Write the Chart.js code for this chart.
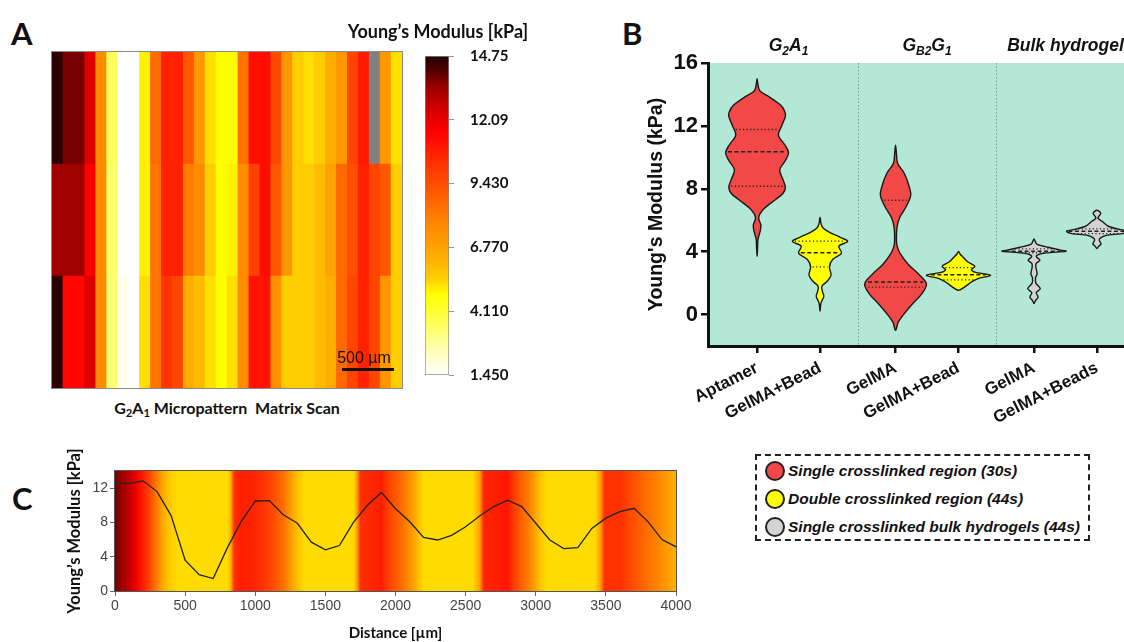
<!DOCTYPE html>
<html><head><meta charset="utf-8">
<script src="https://cdn.jsdelivr.net/npm/chart.js@4.4.0/dist/chart.umd.min.js"></script>
<style>
html,body{margin:0;padding:0;background:#fff;}
body{width:1124px;height:642px;position:relative;overflow:hidden;}
canvas{position:absolute;}
.t{position:absolute;font-family:Lato,"Open Sans",sans-serif;font-weight:700;color:#111;line-height:1;white-space:nowrap;}
#legend{position:absolute;left:755px;top:454px;width:335px;height:87px;border:2px dashed #222;box-sizing:border-box;}
.li{position:absolute;left:8px;height:24px;font-family:"Liberation Sans",Arial,sans-serif;font-weight:700;font-style:italic;font-size:15.5px;color:#111;line-height:24px;white-space:nowrap;}
.dot{display:inline-block;width:20px;height:20px;border:2px solid #222;border-radius:50%;box-sizing:border-box;vertical-align:middle;margin-right:3px;position:relative;top:-1px;}
sub{font-size:70%;vertical-align:-0.25em;line-height:0;}
</style></head><body>
<div class="t" style="left:11px;top:18px;font-size:31px;">A</div>
<div class="t" style="left:622px;top:18px;font-size:31px;">B</div>
<div class="t" style="left:12px;top:483px;font-size:31px;">C</div>
<div class="t" style="left:52px;top:400px;width:350px;text-align:center;font-size:16px;">G<sub>2</sub>A<sub>1</sub> Micropattern&nbsp; Matrix Scan</div>

<canvas id="heat" width="410" height="400" style="left:0;top:0"></canvas>
<canvas id="cbar" width="215" height="400" style="left:330px;top:0"></canvas>
<canvas id="violin" width="524" height="440" style="left:600px;top:0"></canvas>
<canvas id="profile" width="700" height="202" style="left:0;top:440px"></canvas>

<div id="legend">
  <div class="li" style="top:3px"><span class="dot" style="background:#f24848"></span>Single crosslinked region (30s)</div>
  <div class="li" style="top:31px"><span class="dot" style="background:#ffff00"></span>Double crosslinked region (44s)</div>
  <div class="li" style="top:59px"><span class="dot" style="background:#d3d3d3"></span>Single crosslinked bulk hydrogels (44s)</div>
</div>

<script>
// ================= DATA =================
// Panel A: matrix scan (3 rows x 32 columns), Young's modulus in kPa (null = missing)
const heatRowTop    = [14.6,13.8,13.8,12.3,7.6,3.6,1.45,1.45,5.0,8.6,10.7,10.7,9.15,7.1,5.25,4.82,4.82,8.4,11.2,11.2,9.6,7.1,5.5,5.25,5.5,6.45,7.1,9.7,10.9,null,7.1,5.25];
const heatRowMiddle = [13.35,13.35,13.35,11.56,7.6,3.45,1.45,1.45,5.0,8.3,10.7,10.7,8.1,7.6,5.5,4.82,5.0,7.6,9.8,11.2,9.15,7.1,5.5,5.5,6.0,6.8,8.6,9.4,10.7,9.7,9.2,5.5];
const heatRowBottom = [14.6,11.4,11.4,12.3,7.6,3.3,1.7,1.45,5.25,8.3,10.2,9.7,6.45,6.0,5.25,4.82,5.25,7.6,11.1,11.1,7.4,5.5,5.5,5.5,6.0,6.45,8.6,9.7,10.7,9.7,7.2,5.5];
const colorbarTicks      = [1.45, 4.11, 6.77, 9.43, 12.09, 14.75];
const colorbarTickLabels = ['1.450','4.110','6.770','9.430','12.09','14.75'];

// Panel B: violins
const bCategories = ['Aptamer','GelMA+Bead','GelMA','GelMA+Bead','GelMA','GelMA+Beads'];
const bPositions  = [0, 1, 2.2, 3.2, 4.4, 5.4];
const bGroupLabels = ['G_{2}A_{1}', 'G_{B2}G_{1}', 'Bulk hydrogel'];
const bGroupBoundaries = [1.6, 3.8];
const bYTicks = [0, 4, 8, 12, 16];
const bQ1     = [8.16, 3.03, 1.75, 2.21, 3.93, 5.15];
const bMedian = [10.35, 3.93, 2.07, 2.53, 4.03, 5.30];
const bQ3     = [11.77, 4.67, 7.27, 2.99, 4.18, 5.45];
// density profiles: [modulus, relative half-width]
const aptamerProfile = [[15.0,0],[14.6,0.03],[14.2,0.1],[13.8,0.42],[13.3,0.76],[12.9,0.88],[12.6,0.9],[12.0,0.78],[11.4,0.68],[10.8,0.88],[10.3,1.0],[9.8,0.9],[9.2,0.72],[8.6,0.82],[8.1,0.9],[7.7,0.82],[7.3,0.58],[6.8,0.25],[6.4,0.09],[6.1,0.05],[5.7,0.12],[5.3,0.1],[4.8,0.03],[4.2,0.015],[3.7,0]];
const g2a1BeadProfile = [[6.2,0],[5.8,0.03],[5.5,0.1],[5.2,0.33],[4.9,0.66],[4.65,0.88],[4.35,0.6],[3.9,0.68],[3.5,0.4],[3.03,0.3],[2.5,0.35],[2.1,0.22],[1.8,0.06],[1.45,0.08],[1.15,0.12],[0.73,0.03],[0.2,0]];
const gelmaProfile = [[10.77,0],[10.2,0.03],[9.6,0.07],[8.97,0.28],[8.1,0.44],[7.55,0.48],[6.84,0.33],[6.2,0.14],[5.6,0.05],[4.7,0.03],[4.3,0.06],[3.87,0.15],[3.2,0.4],[2.6,0.72],[1.97,0.98],[1.33,0.84],[0.7,0.55],[0.06,0.28],[-0.47,0.09],[-1.0,0]];
const gb2g1BeadProfile = [[4.02,0],[3.85,0.05],[3.66,0.14],[3.34,0.3],[3.07,0.52],[2.86,0.41],[2.68,0.55],[2.5,1.02],[2.29,0.62],[2.07,0.41],[1.75,0.19],[1.55,0]];
const bulkGelmaProfile = [[4.81,0],[4.6,0.05],[4.45,0.12],[4.28,0.45],[4.1,0.85],[4.02,1.0],[3.92,0.4],[3.8,0.12],[3.66,0.08],[3.45,0.19],[3.25,0.07],[3.0,0.06],[2.6,0.1],[2.35,0.05],[2.0,0.06],[1.65,0.2],[1.4,0.07],[1.12,0.13],[0.9,0.05],[0.7,0]];
const bulkBeadsProfile = [[6.63,0],[6.45,0.12],[6.25,0.06],[6.1,0.04],[5.9,0.18],[5.6,0.38],[5.4,0.75],[5.3,0.97],[5.15,0.8],[5.04,0.3],[4.85,0.1],[4.7,0.08],[4.5,0.13],[4.35,0.06],[4.2,0]];

// Panel C: line profile along distance
const cDistance = [0,100,200,300,400,500,600,700,800,900,1000,1100,1200,1300,1400,1500,1600,1700,1800,1900,2000,2100,2200,2300,2400,2500,2600,2700,2800,2900,3000,3100,3200,3300,3400,3500,3600,3700,3800,3900,4000];
const cModulus  = [12.55,12.55,12.85,11.6,8.8,3.6,1.9,1.45,5.0,8.1,10.5,10.55,8.9,7.9,5.7,4.8,5.3,8.0,10.0,11.5,9.6,8.1,6.25,5.95,6.5,7.5,8.75,9.85,10.6,9.85,7.9,5.95,4.95,5.05,7.3,8.5,9.25,9.65,8.1,6.0,5.15];
const cBgDistance = [0,100,150,200,250,300,350,400,450,800,825,850,900,1000,1100,1200,1280,1350,1700,1725,1750,1900,1950,2050,2150,2200,2550,2600,2630,2800,2850,2950,3030,3080,3420,3460,3490,3600,3700,3850,3950,4000];
const cBgModulus  = [13.8,12.85,11.9,10.8,9.6,8.0,6.3,5.5,5.3,5.3,6.3,10.3,10.8,10.6,9.8,8.5,6.3,5.3,5.3,6.8,10.3,10.8,9.8,8.5,6.3,5.3,5.3,6.8,10.6,11.0,9.8,8.0,5.8,5.3,5.3,6.8,10.3,10.3,9.36,8.0,6.8,6.3];
const cYTicks = [0, 4, 8, 12];

// ================= STYLE HELPERS =================
const hotStops = [[1.45,[255,255,255]],[2.76,[255,255,160]],[3.93,[255,255,64]],[4.82,[255,255,0]],[5.51,[255,204,0]],[6.65,[255,165,0]],[7.98,[255,128,0]],[9.36,[255,80,0]],[10.32,[255,48,0]],[11.56,[255,0,0]],[12.52,[212,0,0]],[13.48,[153,0,0]],[14.17,[80,0,0]],[14.75,[32,0,0]]];
function hotColor(v){
  if (v === null || v === undefined) return '#808080';
  const s = hotStops;
  const f = c => `rgb(${Math.round(c[0])},${Math.round(c[1])},${Math.round(c[2])})`;
  if (v <= s[0][0]) return f(s[0][1]);
  for (let i = 1; i < s.length; i++) {
    if (v <= s[i][0]) {
      const t = (v - s[i-1][0]) / (s[i][0] - s[i-1][0]);
      const a = s[i-1][1], b = s[i][1];
      return f([a[0]+(b[0]-a[0])*t, a[1]+(b[1]-a[1])*t, a[2]+(b[2]-a[2])*t]);
    }
  }
  return f(s[s.length-1][1]);
}
const ARIAL = '"Liberation Sans", Arial, sans-serif';
const CAL = 'Lato, "Open Sans", sans-serif';
Chart.defaults.animation = false;
Chart.defaults.plugins.tooltip.enabled = false;
Chart.defaults.plugins.legend.display = false;

// ================= PANEL A: HEATMAP =================
const heatRows = [heatRowBottom, heatRowMiddle, heatRowTop];
const heatFrame = {
  id: 'heatFrame',
  afterDatasetsDraw(chart) {
    const {ctx, chartArea: ca} = chart;
    ctx.save();
    ctx.strokeStyle = '#8a8a8a'; ctx.lineWidth = 1;
    ctx.strokeRect(ca.left - 0.5, ca.top - 0.5, ca.width + 1, ca.height + 1);
    // scale bar
    ctx.fillStyle = '#111'; ctx.font = `16px ${ARIAL}`; ctx.textAlign = 'center'; ctx.textBaseline = 'alphabetic';
    ctx.fillText('500 \u00b5m', ca.right - 38, ca.bottom - 25);
    ctx.strokeStyle = '#111'; ctx.lineWidth = 3;
    ctx.beginPath(); ctx.moveTo(ca.right - 60, ca.bottom - 18.5); ctx.lineTo(ca.right - 8, ca.bottom - 18.5); ctx.stroke();
    ctx.restore();
  }
};
new Chart(document.getElementById('heat'), {
  type: 'bar',
  data: {
    labels: heatRowTop.map((_, i) => i + 1),
    datasets: heatRows.map((row, r) => ({
      data: row.map(() => [r, r + 1]),
      backgroundColor: row.map(v => hotColor(v)),
      borderWidth: 0, barPercentage: 1, categoryPercentage: 1, grouped: false
    }))
  },
  options: {
    responsive: false,
    layout: {padding: {left: 52, top: 52, right: 8, bottom: 12}},
    scales: {x: {display: false}, y: {display: false, min: 0, max: 3}}
  },
  plugins: [heatFrame]
});

// ================= PANEL A: COLORBAR =================
const colorbarTitle = {
  id: 'colorbarTitle',
  afterDraw(chart) {
    const {ctx, chartArea: ca} = chart;
    ctx.save();
    ctx.fillStyle = '#111'; ctx.font = `bold 18px ${CAL}`;
    ctx.textAlign = 'center'; ctx.textBaseline = 'alphabetic';
    ctx.fillText("Young\u2019s Modulus [kPa]", (ca.left + ca.right) / 2 + 1, 38);
    ctx.restore();
  }
};
new Chart(document.getElementById('cbar'), {
  type: 'bar',
  data: {
    labels: [''],
    datasets: [{
      data: [[colorbarTicks[0], colorbarTicks[colorbarTicks.length - 1]]],
      backgroundColor: (c) => {
        const chart = c.chart; const ys = chart.scales.y;
        if (!chart.chartArea || !ys) return '#fff';
        const lo = colorbarTicks[0], hi = colorbarTicks[colorbarTicks.length - 1];
        const g = chart.ctx.createLinearGradient(0, ys.getPixelForValue(lo), 0, ys.getPixelForValue(hi));
        hotStops.forEach(([v]) => g.addColorStop((v - lo) / (hi - lo), hotColor(v)));
        return g;
      },
      borderColor: '#8a8a8a', borderWidth: 1, borderSkipped: false,
      barPercentage: 1, categoryPercentage: 1
    }]
  },
  options: {
    responsive: false,
    layout: {padding: {left: 95, top: 56, right: 0, bottom: 17}},
    scales: {
      x: {display: false},
      y: {
        position: 'right', min: colorbarTicks[0], max: colorbarTicks[colorbarTicks.length - 1],
        afterBuildTicks: s => { s.ticks = colorbarTicks.map(v => ({value: v})); },
        afterFit: s => { s.width = 96; },
        ticks: {callback: (v, i) => colorbarTickLabels[i], color: '#111', padding: 16,
          font: {family: CAL, weight: 'bold', size: 15}},
        grid: {drawOnChartArea: false, drawTicks: true, tickLength: 5, color: '#999'},
        border: {display: false}
      }
    }
  },
  plugins: [colorbarTitle]
});

// ================= PANEL B: VIOLINS =================
const bProfiles = [aptamerProfile, g2a1BeadProfile, gelmaProfile, gb2g1BeadProfile, bulkGelmaProfile, bulkBeadsProfile];
const bFills = ['#f24848', '#ffff00', '#f24848', '#ffff00', '#d3d3d3', '#d3d3d3'];
const violinHalfWidth = 0.5; // x-units for relative width 1

function widthAt(prof, v) {
  for (let i = 1; i < prof.length; i++) {
    const a = prof[i-1], b = prof[i];
    if (v <= a[0] && v >= b[0]) { const t = (a[0] - v) / (a[0] - b[0]); return a[1] + (b[1] - a[1]) * t; }
  }
  return 0;
}
function closedSpline(ctx, pts) {
  const n = pts.length;
  ctx.beginPath();
  ctx.moveTo(pts[0][0], pts[0][1]);
  for (let i = 0; i < n; i++) {
    const p0 = pts[(i - 1 + n) % n], p1 = pts[i], p2 = pts[(i + 1) % n], p3 = pts[(i + 2) % n];
    ctx.bezierCurveTo(p1[0] + (p2[0] - p0[0]) / 6, p1[1] + (p2[1] - p0[1]) / 6,
                      p2[0] - (p3[0] - p1[0]) / 6, p2[1] - (p3[1] - p1[1]) / 6, p2[0], p2[1]);
  }
  ctx.closePath();
}
function parseRich(str) {
  const segs = []; const re = /_\{([^}]*)\}|([^_]+)/g; let m;
  while ((m = re.exec(str))) { if (m[1] !== undefined) segs.push({t: m[1], sub: true}); else segs.push({t: m[2], sub: false}); }
  return segs;
}
function drawRich(ctx, str, cx, baseY, size) {
  const segs = parseRich(str);
  const base = `italic bold ${size}px ${ARIAL}`, sub = `italic bold ${Math.round(size * 0.68)}px ${ARIAL}`;
  let w = 0;
  segs.forEach(s => { ctx.font = s.sub ? sub : base; s.w = ctx.measureText(s.t).width; w += s.w; });
  let x = cx - w / 2;
  ctx.textAlign = 'left'; ctx.textBaseline = 'alphabetic';
  segs.forEach(s => { ctx.font = s.sub ? sub : base; ctx.fillText(s.t, x, baseY + (s.sub ? size * 0.22 : 0)); x += s.w; });
}
const violinPlugin = {
  id: 'violins',
  beforeDraw(chart) {
    const {ctx, chartArea: ca, scales: {x}} = chart;
    ctx.save();
    ctx.fillStyle = '#b4e8d6';
    ctx.fillRect(ca.left, ca.top, ca.width, ca.height);
    ctx.strokeStyle = '#7d9a90'; ctx.lineWidth = 1; ctx.setLineDash([1.5, 2]);
    bGroupBoundaries.forEach(b => {
      const px = Math.round(x.getPixelForValue(b)) + 0.5;
      ctx.beginPath(); ctx.moveTo(px, ca.top); ctx.lineTo(px, ca.bottom); ctx.stroke();
    });
    ctx.restore();
  },
  beforeDatasetsDraw(chart) {
    const {ctx, chartArea: ca, scales: {x, y}} = chart;
    const k = violinHalfWidth * (x.getPixelForValue(1) - x.getPixelForValue(0));
    ctx.save();
    ctx.beginPath(); ctx.rect(ca.left, ca.top, ca.width, ca.height); ctx.clip();
    bProfiles.forEach((prof, i) => {
      const cx = x.getPixelForValue(bPositions[i]);
      const right = prof.map(([v, w]) => [cx + w * k, y.getPixelForValue(v)]);
      const left = prof.slice(1, -1).reverse().map(([v, w]) => [cx - w * k, y.getPixelForValue(v)]);
      closedSpline(ctx, right.concat(left));
      ctx.fillStyle = bFills[i]; ctx.fill();
      ctx.strokeStyle = '#1a1a1a'; ctx.lineWidth = 1.4; ctx.setLineDash([]); ctx.stroke();
      const line = (v, dash, lw) => {
        const hw = widthAt(prof, v) * k - 2;
        if (hw <= 0) return;
        const py = y.getPixelForValue(v);
        ctx.setLineDash(dash); ctx.lineWidth = lw; ctx.strokeStyle = '#222';
        ctx.beginPath(); ctx.moveTo(cx - hw, py); ctx.lineTo(cx + hw, py); ctx.stroke();
      };
      line(bQ1[i], [1.2, 2.4], 1.3);
      line(bQ3[i], [1.2, 2.4], 1.3);
      line(bMedian[i], [4, 2.5], 1.5);
    });
    ctx.restore();
  },
  afterDraw(chart) {
    const {ctx, scales: {x}} = chart;
    ctx.save(); ctx.fillStyle = '#111';
    bGroupLabels.forEach((g, gi) => {
      const cx = x.getPixelForValue((bPositions[gi * 2] + bPositions[gi * 2 + 1]) / 2);
      drawRich(ctx, g, cx, 51, 17.5);
    });
    ctx.restore();
  }
};
new Chart(document.getElementById('violin'), {
  type: 'scatter',
  data: {datasets: [{data: bPositions.map((p, i) => ({x: p, y: bMedian[i]})), pointRadius: 0}]},
  options: {
    responsive: false,
    layout: {padding: {left: 45, top: 63, right: 0, bottom: 0}},
    scales: {
      x: {
        type: 'linear', min: -0.78, max: 5.83,
        afterBuildTicks: s => { s.ticks = bPositions.map(v => ({value: v})); },
        afterFit: s => { s.height = 94; },
        ticks: {autoSkip: false, minRotation: 27, maxRotation: 27, callback: (v, i) => bCategories[i],
          color: '#111', padding: 5, font: {family: ARIAL, weight: 'bold', size: 17}},
        grid: {drawOnChartArea: false, drawTicks: true, tickLength: 7, color: '#111', lineWidth: 2.5},
        border: {display: true, color: '#111', width: 3}
      },
      y: {
        min: -2, max: 16,
        afterBuildTicks: s => { s.ticks = bYTicks.map(v => ({value: v})); },
        afterFit: s => { s.width = 63; },
        ticks: {color: '#111', padding: 3, font: {family: ARIAL, weight: 'bold', size: 22}},
        grid: {drawOnChartArea: false, drawTicks: true, tickLength: 7, color: '#111', lineWidth: 2.5},
        border: {display: true, color: '#111', width: 3},
        title: {display: true, text: "Young's Modulus (kPa)", color: '#111', padding: 0,
          font: {family: ARIAL, weight: 'bold', size: 19.5}}
      }
    }
  },
  plugins: [violinPlugin]
});

// ================= PANEL C: PROFILE =================
const profileBg = {
  id: 'profileBg',
  beforeDatasetsDraw(chart) {
    const {ctx, chartArea: ca, scales: {x}} = chart;
    const x0 = x.getPixelForValue(cBgDistance[0]), x1 = x.getPixelForValue(cBgDistance[cBgDistance.length - 1]);
    const g = ctx.createLinearGradient(x0, 0, x1, 0);
    cBgDistance.forEach((d, i) => g.addColorStop((x.getPixelForValue(d) - x0) / (x1 - x0), hotColor(cBgModulus[i])));
    ctx.save(); ctx.fillStyle = g; ctx.fillRect(ca.left, ca.top, ca.width, ca.height); ctx.restore();
  },
  afterDatasetsDraw(chart) {
    const {ctx, chartArea: ca} = chart;
    ctx.save(); ctx.strokeStyle = '#555'; ctx.lineWidth = 1;
    ctx.strokeRect(Math.round(ca.left) - 0.5, Math.round(ca.top) - 0.5, Math.round(ca.width) + 1, Math.round(ca.height) + 1);
    ctx.restore();
  }
};
new Chart(document.getElementById('profile'), {
  type: 'line',
  data: {datasets: [{data: cDistance.map((d, i) => ({x: d, y: cModulus[i]})),
    borderColor: '#222', borderWidth: 1.3, pointRadius: 0, tension: 0, fill: false}]},
  options: {
    responsive: false,
    layout: {padding: {left: 65, top: 31, right: 24, bottom: 0}},
    scales: {
      x: {
        type: 'linear', min: 0, max: 4000,
        afterFit: s => { s.height = 51; },
        ticks: {stepSize: 500, maxRotation: 0, color: '#444', padding: 2, font: {family: ARIAL, size: 14},
          callback: v => String(v)},
        grid: {drawOnChartArea: false, drawTicks: true, tickLength: 5, color: '#666'},
        border: {display: false},
        title: {display: true, text: 'Distance [\u00b5m]', color: '#111', padding: 0,
          font: {family: CAL, weight: 'bold', size: 15}}
      },
      y: {
        min: 0, max: 14,
        afterBuildTicks: s => { s.ticks = cYTicks.map(v => ({value: v})); },
        afterFit: s => { s.width = 50; },
        ticks: {color: '#444', padding: 2, font: {family: ARIAL, size: 14}},
        grid: {drawOnChartArea: false, drawTicks: true, tickLength: 5, color: '#666'},
        border: {display: false},
        title: {display: true, text: "Young\u2019s Modulus [kPa]", color: '#111', padding: 0,
          font: {family: CAL, weight: 'bold', size: 16.5}}
      }
    }
  },
  plugins: [profileBg]
});
</script>
</body></html>
